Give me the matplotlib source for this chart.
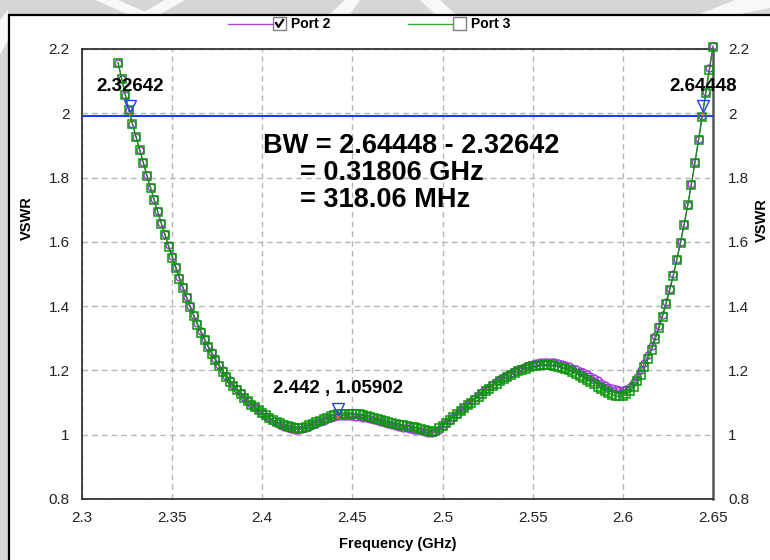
import numpy as np
import matplotlib.pyplot as plt
from matplotlib.patches import Rectangle, Polygon
from matplotlib.lines import Line2D
from matplotlib.transforms import ScaledTranslation

plt.rcParams['font.family'] = ['Liberation Sans', 'DejaVu Sans']

# frequency sweep (GHz)
freq = np.round(np.arange(2.320, 2.6505, 0.002), 3)

vswr_port2 = [
    2.157, 2.107, 2.058, 2.010, 1.967, 1.927, 1.887, 1.848, 1.808, 1.770,
    1.732, 1.695, 1.659, 1.624, 1.589, 1.556, 1.523, 1.491, 1.460, 1.430,
    1.401, 1.373, 1.347, 1.322, 1.299, 1.277, 1.256, 1.236, 1.218, 1.201,
    1.184, 1.169, 1.155, 1.141, 1.129, 1.118, 1.106, 1.096, 1.086, 1.077,
    1.068, 1.059, 1.051, 1.043, 1.036, 1.030, 1.025, 1.021, 1.018, 1.016,
    1.016, 1.017, 1.020, 1.024, 1.029, 1.034, 1.039, 1.044, 1.048, 1.052,
    1.055, 1.058, 1.059, 1.059, 1.058, 1.057, 1.056, 1.055, 1.053, 1.051,
    1.049, 1.046, 1.043, 1.040, 1.037, 1.034, 1.031, 1.028, 1.025, 1.022,
    1.020, 1.018, 1.016, 1.014, 1.011, 1.008, 1.006, 1.004, 1.008, 1.016,
    1.026, 1.036, 1.046, 1.056, 1.066, 1.076, 1.086, 1.095, 1.105, 1.114,
    1.124, 1.133, 1.142, 1.150, 1.158, 1.166, 1.173, 1.180, 1.187, 1.193,
    1.199, 1.204, 1.209, 1.213, 1.217, 1.220, 1.223, 1.225, 1.226, 1.227,
    1.226, 1.225, 1.223, 1.220, 1.217, 1.213, 1.209, 1.204, 1.199, 1.194,
    1.188, 1.182, 1.175, 1.169, 1.162, 1.156, 1.150, 1.145, 1.141, 1.138,
    1.138, 1.142, 1.150, 1.163, 1.180, 1.200, 1.222, 1.247, 1.275, 1.306,
    1.339, 1.374, 1.412, 1.454, 1.499, 1.548, 1.600, 1.656, 1.716, 1.780,
    1.848, 1.919, 1.992, 2.066, 2.140, 2.210,
]

vswr_port3 = [
    2.157, 2.107, 2.058, 2.010, 1.966, 1.925, 1.885, 1.845, 1.805, 1.767,
    1.729, 1.692, 1.656, 1.620, 1.585, 1.551, 1.518, 1.486, 1.455, 1.425,
    1.396, 1.368, 1.342, 1.317, 1.294, 1.272, 1.251, 1.231, 1.213, 1.196,
    1.180, 1.165, 1.151, 1.138, 1.126, 1.115, 1.104, 1.094, 1.085, 1.076,
    1.068, 1.060, 1.053, 1.046, 1.040, 1.035, 1.030, 1.026, 1.023, 1.021,
    1.021, 1.022, 1.025, 1.029, 1.034, 1.039, 1.044, 1.049, 1.053, 1.057,
    1.060, 1.063, 1.065, 1.066, 1.066, 1.066, 1.065, 1.063, 1.061, 1.058,
    1.055, 1.052, 1.048, 1.045, 1.042, 1.039, 1.036, 1.033, 1.031, 1.029,
    1.027, 1.025, 1.023, 1.021, 1.018, 1.015, 1.012, 1.010, 1.013, 1.020,
    1.028, 1.037, 1.046, 1.055, 1.064, 1.073, 1.082, 1.091, 1.100, 1.109,
    1.118, 1.127, 1.135, 1.143, 1.151, 1.159, 1.166, 1.173, 1.180, 1.186,
    1.192, 1.197, 1.202, 1.206, 1.210, 1.213, 1.215, 1.217, 1.218, 1.218,
    1.217, 1.215, 1.212, 1.209, 1.205, 1.200, 1.195, 1.190, 1.184, 1.178,
    1.171, 1.164, 1.157, 1.150, 1.143, 1.136, 1.130, 1.125, 1.121, 1.119,
    1.120, 1.126, 1.136, 1.150, 1.167, 1.187, 1.210, 1.236, 1.265, 1.297,
    1.331, 1.367, 1.406, 1.449, 1.495, 1.545, 1.598, 1.654, 1.714, 1.778,
    1.846, 1.916, 1.988, 2.062, 2.135, 2.205,
]

# markers on Port 2
mark_f = [2.32642, 2.442, 2.64448]
mark_v = [2.0, 1.05902, 2.0]
mark_txt = ['2.32642', '2.442 , 1.05902', '2.64448']
f_lo, f_hi = 2.32642, 2.64448
vswr_level = 1.993

xticks = [2.3, 2.35, 2.4, 2.45, 2.5, 2.55, 2.6, 2.65]
yticks = [0.8, 1.0, 1.2, 1.4, 1.6, 1.8, 2.0, 2.2]
xtick_labels = ['2.3', '2.35', '2.4', '2.45', '2.5', '2.55', '2.6', '2.65']
ytick_labels = ['0.8', '1', '1.2', '1.4', '1.6', '1.8', '2', '2.2']

C_P2 = '#a030e0'
C_P3 = '#0a960a'

W, H = 770, 560
fig = plt.figure(figsize=(W / 100, H / 100), dpi=100)
fig.patch.set_facecolor('#d6d6d6')

# background layer in pixel coordinates (window frame, watermark, legend)
bg = fig.add_axes([0, 0, 1, 1], zorder=0)
bg.set_xlim(0, W)
bg.set_ylim(H, 0)
bg.axis('off')
for pts in ([(95, 0), (118, 0), (150, 14), (127, 14)],
            [(165, 0), (185, 0), (160, 14), (140, 14)],
            [(330, 14), (345, 0), (360, 0), (350, 14)],
            [(420, 0), (440, 0), (455, 14), (435, 14)],
            [(700, 14), (735, 0), (770, 0), (770, 8), (740, 14)],
            [(0, 20), (8, 10), (8, 40), (0, 55)]):
    bg.add_patch(Polygon(pts, closed=True, fc='white', ec='none', alpha=0.85))
bg.add_patch(Rectangle((9, 15), 780, 560, fc='white', ec='black', lw=1.6))

# legend with check boxes
leg_y = 24
for x0, col, lab, checked in [(228, '#b040f0', 'Port 2', True),
                              (408, '#30b030', 'Port 3', False)]:
    bg.add_line(Line2D([x0, x0 + 45], [leg_y, leg_y], color=col, lw=1.0))
    bg.add_patch(Rectangle((x0 + 45, leg_y - 7), 13, 13, fc='white', ec='#808080', lw=1.0))
    if checked:
        bg.add_line(Line2D([x0 + 48, x0 + 50.5, x0 + 55], [leg_y - 1, leg_y + 3, leg_y - 4],
                           color='black', lw=1.6))
    bg.text(x0 + 63, leg_y, lab, fontsize=10, fontweight='bold', va='center', ha='left')

# main plot
L, R, T, B = 82, 713, 49, 499
ax = fig.add_axes([L / W, 1 - B / H, (R - L) / W, (B - T) / H], zorder=2)
ax.set_facecolor('white')
ax.set_xlim(2.3, 2.65)
ax.set_ylim(0.8, 2.2)
ax.set_xticks(xticks)
ax.set_yticks(yticks)
ax.set_xticklabels(xtick_labels)
ax.set_yticklabels(ytick_labels)
ax.tick_params(length=0, labelsize=11, pad=9, colors='#222222')
ax.grid(True, color='#b4b4b4', linestyle=(0, (4, 3)), linewidth=1.0)
for s in ax.spines.values():
    s.set_color('#333333')
    s.set_linewidth(1.3)
ax.spines['right'].set_color('#555555')
ax.spines['right'].set_linewidth(1.8)

ax.axhline(vswr_level, color='#1a3cff', lw=1.5, zorder=3)

ax.plot(freq, vswr_port2, color=C_P2, lw=0.9, marker='o', ms=5, mfc='none',
        mec=C_P2, mew=1.0, zorder=4, clip_on=False)
ax.plot(freq, vswr_port3, color=C_P3, lw=0.9, marker='s', ms=5.3, mfc='none',
        mec=C_P3, mew=1.1, zorder=5, clip_on=False)

# marker triangles and labels
tri_shift = ax.transData + ScaledTranslation(0, 7 / 100, fig.dpi_scale_trans)
for f, v, txt in zip(mark_f, mark_v, mark_txt):
    ax.plot([f], [v], marker='|', color='#e07010', ms=5, mew=1.5, zorder=6)
    ax.plot([f], [v], marker='v', ms=8, mfc='none', mec='#2040ff', mew=1.0,
            zorder=6, clip_on=False, transform=tri_shift)
    ax.annotate(txt, xy=(f, v), xytext=(0, 19.5), textcoords='offset points',
                ha='center', va='center', fontsize=13.5, fontweight='bold',
                annotation_clip=False, zorder=7)

ax.text(0.287, 0.784, f'BW = {f_hi:.5f} - {f_lo:.5f}', transform=ax.transAxes,
        fontsize=19.5, fontweight='bold', va='center', ha='left')
ax.text(0.345, 0.724, f'= {f_hi - f_lo:.5f} GHz', transform=ax.transAxes,
        fontsize=19.5, fontweight='bold', va='center', ha='left')
ax.text(0.345, 0.664, f'= {(f_hi - f_lo) * 1000:.2f} MHz', transform=ax.transAxes,
        fontsize=19.5, fontweight='bold', va='center', ha='left')

ax.set_xlabel('Frequency (GHz)', fontsize=10.5, fontweight='bold', labelpad=8)
ax.set_ylabel('VSWR', fontsize=10.5, fontweight='bold')
ax.yaxis.set_label_coords(-0.076, 0.625)

ax2 = ax.twinx()
ax2.set_ylim(0.8, 2.2)
ax2.set_yticks(yticks)
ax2.set_yticklabels(ytick_labels)
ax2.tick_params(length=0, labelsize=11, pad=11, colors='#222222')
ax2.set_ylabel('VSWR', fontsize=10.5, fontweight='bold')
ax2.yaxis.set_label_coords(1.066, 0.62)
for s in ax2.spines.values():
    s.set_visible(False)

fig.savefig('out.png', dpi=100, facecolor=fig.get_facecolor())
